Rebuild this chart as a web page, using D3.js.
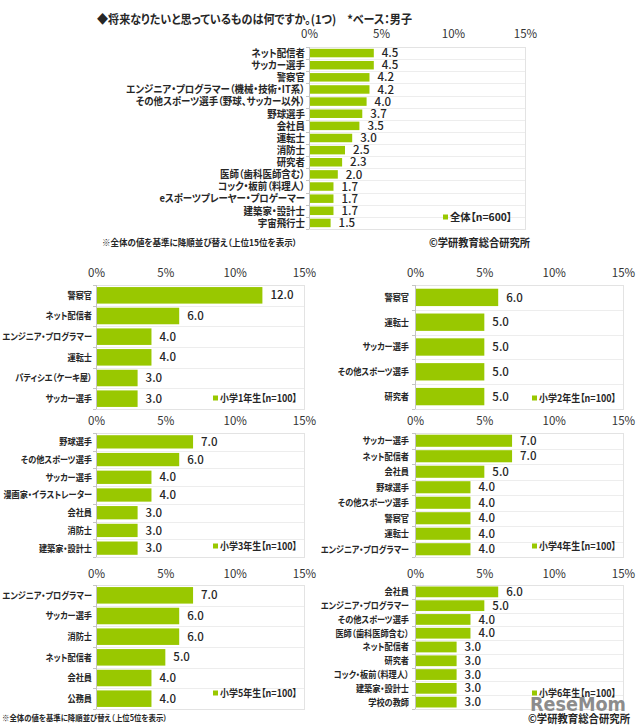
<!DOCTYPE html>
<html>
<head>
<meta charset="utf-8">
<script src="https://cdn.jsdelivr.net/npm/d3@7"></script>
<style>
  html, body { margin: 0; padding: 0; background: #ffffff; }
  svg { display: block; font-family: "Noto Sans CJK JP", "Noto Sans", sans-serif; font-feature-settings: "palt" 1; }
</style>
</head>
<body>
<svg id="chart" width="640" height="728"></svg>
<script>
// ---------- data ----------
const title = "◆将来なりたいと思っているものは何ですか。(1つ)　*ベース：男子";
const tickValues = [0, 5, 10, 15];

const allCats = ["ネット配信者", "サッカー選手", "警察官", "エンジニア・プログラマー（機械・技術・IT系）", "その他スポーツ選手（野球、サッカー以外）", "野球選手", "会社員", "運転士", "消防士", "研究者", "医師（歯科医師含む）", "コック・板前（料理人）", "eスポーツプレーヤー・プロゲーマー", "建築家・設計士", "宇宙飛行士"];
const allVals = [4.5, 4.5, 4.2, 4.2, 4.0, 3.7, 3.5, 3.0, 2.5, 2.3, 2.0, 1.7, 1.7, 1.7, 1.5];
const allLegend = "全体【n=600】";

const g1Cats = ["警察官", "ネット配信者", "エンジニア・プログラマー", "運転士", "パティシエ（ケーキ屋）", "サッカー選手"];
const g1Vals = [12.0, 6.0, 4.0, 4.0, 3.0, 3.0];
const g1Legend = "小学1年生【n=100】";

const g2Cats = ["警察官", "運転士", "サッカー選手", "その他スポーツ選手", "研究者"];
const g2Vals = [6.0, 5.0, 5.0, 5.0, 5.0];
const g2Legend = "小学2年生【n=100】";

const g3Cats = ["野球選手", "その他スポーツ選手", "サッカー選手", "漫画家・イラストレーター", "会社員", "消防士", "建築家・設計士"];
const g3Vals = [7.0, 6.0, 4.0, 4.0, 3.0, 3.0, 3.0];
const g3Legend = "小学3年生【n=100】";

const g4Cats = ["サッカー選手", "ネット配信者", "会社員", "野球選手", "その他スポーツ選手", "警察官", "運転士", "エンジニア・プログラマー"];
const g4Vals = [7.0, 7.0, 5.0, 4.0, 4.0, 4.0, 4.0, 4.0];
const g4Legend = "小学4年生【n=100】";

const g5Cats = ["エンジニア・プログラマー", "サッカー選手", "消防士", "ネット配信者", "会社員", "公務員"];
const g5Vals = [7.0, 6.0, 6.0, 5.0, 4.0, 4.0];
const g5Legend = "小学5年生【n=100】";

const g6Cats = ["会社員", "エンジニア・プログラマー", "その他スポーツ選手", "医師（歯科医師含む）", "ネット配信者", "研究者", "コック・板前（料理人）", "建築家・設計士", "学校の教師"];
const g6Vals = [6.0, 5.0, 4.0, 4.0, 3.0, 3.0, 3.0, 3.0, 3.0];
const g6Legend = "小学6年生【n=100】";

const note15 = "※全体の値を基準に降順並び替え（上位15位を表示）";
const note5 = "※全体の値を基準に降順並び替え（上位5位を表示）";
const copyright = "©学研教育総合研究所";

// ---------- drawing ----------
const svg = d3.select("#chart");
const GREEN = "#99c800";
const TEXT = "#262626";

// horizontally condense a text (factor k), never wider than maxW
function fit(sel, k, maxW) {
  sel.each(function () {
    const w = this.getComputedTextLength();
    let t = w * k;
    if (maxW && t > maxW) t = maxW;
    d3.select(this).attr("textLength", t).attr("lengthAdjust", "spacingAndGlyphs");
  });
}
function fixW(sel, w) {
  sel.attr("textLength", w).attr("lengthAdjust", "spacingAndGlyphs");
}

function drawPanel(o) {
  const g = svg.append("g");
  const x = d3.scaleLinear().domain([0, 15]).range([o.x0, o.x1]);
  const y = d3.scaleBand().domain(o.cats).range([o.y0, o.y1]).paddingInner(o.pad).paddingOuter(o.pad / 2);
  const step = y.step();

  // plot border
  g.append("rect").attr("x", o.x0 + 0.5).attr("y", o.y0 + 0.5).attr("width", o.x1 - o.x0).attr("height", o.y1 - o.y0)
    .attr("fill", "none").attr("stroke", "#e3e3e3").attr("stroke-width", 1);
  // horizontal grid between rows
  o.cats.slice(1).forEach((c, i) => {
    const yy = Math.round(o.y0 + step * (i + 1)) + 0.5;
    g.append("line").attr("x1", o.x0).attr("x2", o.x1).attr("y1", yy).attr("y2", yy)
      .attr("stroke", "#ededed");
  });

  // top axis tick labels
  const ax = d3.axisTop(x).tickValues(tickValues).tickFormat(d => d + "%").tickSize(0);
  const axg = g.append("g").attr("transform", `translate(0,${o.tickY})`).call(ax);
  axg.select(".domain").remove();
  axg.selectAll("text").attr("font-size", o.tickFs).attr("fill", "#333").attr("dy", "0.35em")
    .attr("font-family", "'Noto Sans CJK JP', sans-serif");

  // left axis line and ticks
  g.append("line").attr("x1", o.x0 + 0.5).attr("x2", o.x0 + 0.5).attr("y1", o.y0).attr("y2", o.y1)
    .attr("stroke", "#c4c4c4");
  for (let i = 0; i <= o.cats.length; i++) {
    const yy = Math.round(o.y0 + step * i) + 0.5;
    g.append("line").attr("x1", o.x0 - 3).attr("x2", o.x0).attr("y1", yy).attr("y2", yy).attr("stroke", "#c4c4c4");
  }

  // bars
  g.selectAll("rect.bar").data(o.vals).enter().append("rect").attr("class", "bar")
    .attr("x", x(0) + 1).attr("y", (d, i) => y(o.cats[i]))
    .attr("width", d => x(d) - x(0) - 1).attr("height", y.bandwidth())
    .attr("fill", GREEN);

  // value labels
  g.selectAll("text.val").data(o.vals).enter().append("text").attr("class", "val")
    .attr("x", d => x(d) + o.valGap).attr("y", (d, i) => y(o.cats[i]) + y.bandwidth() / 2)
    .attr("dy", "0.36em").attr("font-size", o.valFs).attr("font-weight", 500).attr("fill", TEXT)
    .text(d => d.toFixed(1));

  // category labels
  const cl = g.selectAll("text.cat").data(o.cats).enter().append("text").attr("class", "cat")
    .attr("x", o.labelX).attr("y", d => y(d) + y.bandwidth() / 2)
    .attr("dy", "0.36em").attr("text-anchor", "end").attr("font-size", o.catFs).attr("font-weight", "bold")
    .attr("fill", TEXT).text(d => d);
  fit(cl, o.catK, o.catMax);

  // legend
  g.append("rect").attr("x", o.legX).attr("y", o.legY - 2.5).attr("width", 5).attr("height", 5).attr("fill", GREEN);
  const lt = g.append("text").attr("x", o.legX + 7).attr("y", o.legY).attr("dy", "0.36em")
    .attr("font-size", o.legFs).attr("font-weight", "bold").attr("fill", TEXT).text(o.legend);
  fixW(lt, o.legW);
}

// title
fixW(svg.append("text").attr("x", 97).attr("y", 20).attr("dy", "0.36em").attr("font-size", 12)
  .attr("font-weight", "bold").attr("fill", TEXT).text(title), 315);

// main chart
drawPanel({ cats: allCats, vals: allVals, x0: 309, x1: 525, y0: 47, y1: 229, pad: 0.3,
  tickY: 37, tickFs: 11.5, valGap: 8, valFs: 11.5, labelX: 305, catFs: 10.5, catK: 0.9, catMax: 184,
  legX: 443, legY: 217, legend: allLegend, legFs: 10.5, legW: 62 });

fixW(svg.append("text").attr("x", 102).attr("y", 243).attr("dy", "0.36em").attr("font-size", 9)
  .attr("font-weight", "bold").attr("fill", TEXT).text(note15), 195);
fixW(svg.append("text").attr("x", 429).attr("y", 243).attr("dy", "0.36em").attr("font-size", 11)
  .attr("font-weight", "bold").attr("fill", TEXT).text(copyright), 101);

const L = { x0: 96, x1: 304, labelX: 92, legX: 213, catMax: 90 };
const R = { x0: 415, x1: 623, labelX: 409, legX: 532, catMax: 88 };
const common = { tickFs: 11.5, valGap: 8, valFs: 11.5, catFs: 9.5, catK: 0.86, legFs: 10, legW: 77 };

drawPanel(Object.assign({}, common, L, { cats: g1Cats, vals: g1Vals, y0: 285, y1: 409, pad: 0.2, tickY: 276, legY: 398, legend: g1Legend }));
drawPanel(Object.assign({}, common, R, { cats: g2Cats, vals: g2Vals, y0: 285, y1: 409, pad: 0.3, tickY: 276, legY: 398, legend: g2Legend }));
drawPanel(Object.assign({}, common, L, { cats: g3Cats, vals: g3Vals, y0: 433, y1: 557, pad: 0.25, tickY: 424, legY: 546, legend: g3Legend }));
drawPanel(Object.assign({}, common, R, { cats: g4Cats, vals: g4Vals, y0: 433, y1: 557, pad: 0.22, tickY: 424, legY: 546, legend: g4Legend }));
drawPanel(Object.assign({}, common, L, { cats: g5Cats, vals: g5Vals, y0: 585, y1: 709, pad: 0.2, tickY: 577, legY: 693, legend: g5Legend }));
drawPanel(Object.assign({}, common, R, { cats: g6Cats, vals: g6Vals, y0: 585, y1: 709, pad: 0.22, tickY: 577, legY: 693, legend: g6Legend }));

fixW(svg.append("text").attr("x", 2).attr("y", 718).attr("dy", "0.36em").attr("font-size", 8.5)
  .attr("font-weight", "bold").attr("fill", TEXT).text(note5), 165);

// watermark logo
svg.append("text").attr("x", 530).attr("y", 704).attr("dy", "0.36em").attr("font-size", 19)
  .attr("font-weight", "bold").attr("fill", "#8c8c8c").attr("font-family", "'DejaVu Sans', sans-serif")
  .attr("textLength", 96).attr("lengthAdjust", "spacingAndGlyphs").text("ReseMom");
fixW(svg.append("text").attr("x", 528).attr("y", 719).attr("dy", "0.36em").attr("font-size", 11)
  .attr("font-weight", "bold").attr("fill", TEXT).text(copyright), 102);
</script>
</body>
</html>
